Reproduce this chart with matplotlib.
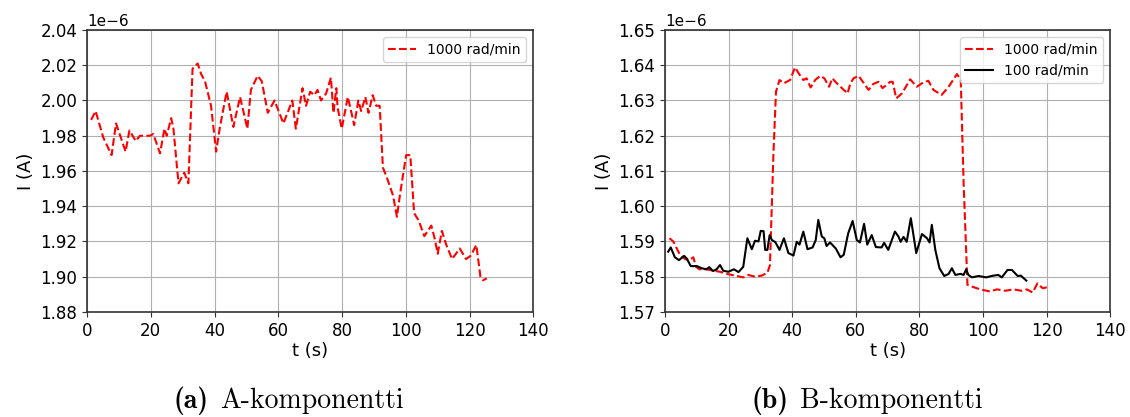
import matplotlib
matplotlib.use("Agg")
import matplotlib.pyplot as plt
import numpy as np

# Panel A: 1000 rad/min
tA = [1.3, 2.7, 5.1, 7.7, 9.1, 12.1, 13.3, 15.3, 16.6, 19.8, 20.8, 22.9, 24.3, 25.0, 26.4, 27.1,
      28.7, 30.5, 31.8, 33.1, 34.7, 35.8, 37.0, 38.9, 40.5, 41.7, 43.8, 45.9, 48.0, 50.3, 51.4,
      53.5, 54.8, 56.7, 58.8, 61.6, 64.4, 65.5, 67.6, 68.7, 70.0, 71.3, 72.3, 73.4, 75.0, 76.5,
      77.3, 78.2, 78.6, 79.9, 81.8, 82.7, 83.8, 85.1, 86.0, 87.3, 88.3, 89.6, 90.7, 91.8, 92.8,
      94.3, 96.0, 97.2, 98.2, 100.1, 101.4, 102.6, 104.0, 105.8, 108.0, 109.0, 110.0, 111.3,
      112.7, 114.5, 116.9, 118.9, 120.4, 122.1, 123.4, 124.2, 125.4]
IA = [1.989, 1.994, 1.979, 1.969, 1.987, 1.971, 1.983, 1.977, 1.980, 1.980, 1.981, 1.970, 1.984,
      1.980, 1.990, 1.984, 1.953, 1.959, 1.953, 2.018, 2.021, 2.015, 2.011, 1.997, 1.971, 1.985,
      2.005, 1.985, 2.002, 1.984, 2.006, 2.014, 2.011, 1.993, 2.000, 1.987, 2.000, 1.984, 2.007,
      1.997, 2.005, 2.003, 2.006, 2.000, 2.004, 2.013, 1.993, 2.007, 1.996, 1.984, 2.002, 1.995,
      1.986, 2.000, 1.994, 2.002, 1.993, 2.003, 1.997, 1.997, 1.962, 1.955, 1.946, 1.934, 1.947,
      1.969, 1.969, 1.936, 1.932, 1.923, 1.929, 1.922, 1.913, 1.926, 1.918, 1.910, 1.916, 1.910,
      1.912, 1.918, 1.900, 1.898, 1.899]

# Panel B: 1000 rad/min
tB1 = [1.4, 2.6, 4.7, 6.3, 7.6, 8.9, 9.75, 10.8, 12.9, 15.2, 17.3, 19.4, 22.6, 24.6, 26.2, 28.3,
       30.4, 32.2, 33.0, 34.1, 34.9, 36.0, 37.4, 39.3, 40.9, 41.9, 43.5, 44.5, 45.8, 47.2, 48.8,
       50.1, 51.6, 52.6, 54.0, 57.4, 58.3, 59.3, 60.9, 62.2, 64.0, 65.5, 67.1, 68.4, 70.8, 71.6,
       72.7, 74.5, 77.1, 79.2, 80.8, 82.8, 84.4, 87.0, 89.2, 91.8, 93.0, 93.9, 95.1, 96.5, 99.1,
       102.2, 104.4, 107.0, 109.6, 112.2, 113.8, 115.6, 117.1, 118.8, 120.9]
IB1 = [1.5909, 1.5900, 1.5862, 1.5850, 1.5847, 1.5855, 1.5828, 1.5821, 1.5821, 1.5817, 1.5814,
       1.5808, 1.5802, 1.5798, 1.5805, 1.5800, 1.5803, 1.5811, 1.5833, 1.6150, 1.6325, 1.6358,
       1.6349, 1.6358, 1.6394, 1.6379, 1.6358, 1.6363, 1.6337, 1.6358, 1.6370, 1.6363, 1.6339,
       1.6363, 1.6349, 1.6320, 1.6349, 1.6363, 1.6370, 1.6353, 1.6330, 1.6347, 1.6353, 1.6335,
       1.6353, 1.6353, 1.6306, 1.6320, 1.6360, 1.6339, 1.6349, 1.6356, 1.6330, 1.6316, 1.6339,
       1.6375, 1.6358, 1.6065, 1.5777, 1.5772, 1.5764, 1.5758, 1.5764, 1.5760, 1.5764, 1.5760,
       1.5764, 1.5755, 1.5781, 1.5767, 1.5772]

# Panel B: 100 rad/min
tB2 = [1.0, 1.8, 3.1, 4.4, 6.0, 6.8, 8.1, 10.0, 11.5, 13.0, 13.9, 15.1, 16.2, 17.3, 18.3, 19.9,
       21.7, 23.1, 24.6, 25.9, 27.3, 28.3, 29.4, 30.1, 31.0, 31.5, 32.2, 32.9, 33.6, 34.7, 36.0,
       37.4, 38.8, 40.4, 41.4, 42.3, 43.5, 44.8, 46.4, 47.4, 48.2, 49.3, 50.1, 50.8, 51.9, 53.7,
       55.2, 56.2, 57.6, 59.0, 60.3, 61.3, 62.6, 63.6, 65.0, 66.3, 68.1, 68.9, 70.2, 72.3, 73.4,
       74.1, 75.0, 76.0, 77.3, 79.0, 80.8, 82.4, 83.2, 83.9, 85.0, 86.3, 87.8, 89.2, 90.2, 91.3,
       92.9, 93.9, 94.7, 95.4, 96.5, 98.6, 101.0, 102.7, 104.8, 105.9, 107.7, 109.1, 110.9,
       111.9, 113.6]
IB2 = [1.5871, 1.5883, 1.5855, 1.5847, 1.5859, 1.5852, 1.5830, 1.5830, 1.5824, 1.5821, 1.5827,
       1.5816, 1.5821, 1.5833, 1.5817, 1.5814, 1.5821, 1.5813, 1.5828, 1.5909, 1.5878, 1.5902,
       1.5900, 1.5930, 1.5929, 1.5876, 1.5876, 1.5918, 1.5904, 1.5898, 1.5876, 1.5909, 1.5867,
       1.5860, 1.5899, 1.5891, 1.5928, 1.5878, 1.5883, 1.5904, 1.5961, 1.5914, 1.5909, 1.5887,
       1.5897, 1.5880, 1.5855, 1.5862, 1.5923, 1.5958, 1.5904, 1.5897, 1.5950, 1.5891, 1.5918,
       1.5884, 1.5883, 1.5896, 1.5876, 1.5928, 1.5914, 1.5899, 1.5913, 1.5899, 1.5966, 1.5867,
       1.5921, 1.5909, 1.5897, 1.5947, 1.5876, 1.5824, 1.5802, 1.5808, 1.5824, 1.5805, 1.5808,
       1.5805, 1.5821, 1.5805, 1.5798, 1.5802, 1.5798, 1.5802, 1.5805, 1.5798, 1.5819, 1.5819,
       1.5802, 1.5803, 1.5789]

xticks = [0, 20, 40, 60, 80, 100, 120, 140]
yticksA = [1.88, 1.90, 1.92, 1.94, 1.96, 1.98, 2.00, 2.02, 2.04]
yticksB = [1.57, 1.58, 1.59, 1.60, 1.61, 1.62, 1.63, 1.64, 1.65]
captions = ['A-komponentti', 'B-komponentti']
letters = ['(a)', '(b)']
scale = 1e-6

W, H = 1130, 417
fig = plt.figure(figsize=(W / 100, H / 100), dpi=100)
axA = fig.add_axes([0.077, 0.252, 0.395, 0.676])
axB = fig.add_axes([0.5885, 0.252, 0.394, 0.676])

axA.plot(np.array(tA), np.array(IA) * scale, color='red', linestyle='--', linewidth=1.5,
         label='1000 rad/min')
axB.plot(np.array(tB1), np.array(IB1) * scale, color='red', linestyle='--', linewidth=1.5,
         label='1000 rad/min')
axB.plot(np.array(tB2), np.array(IB2) * scale, color='black', linestyle='-', linewidth=1.5,
         label='100 rad/min')

for ax, yt in [(axA, yticksA), (axB, yticksB)]:
    ax.set_xlim(0, 140)
    ax.set_ylim(yt[0] * scale, yt[-1] * scale)
    ax.set_xticks(xticks)
    ax.set_yticks(np.array(yt) * scale)
    ax.grid(True, color='#b0b0b0', linewidth=0.8)
    ax.tick_params(labelsize=12, color='#333333')
    for sp in ax.spines.values():
        sp.set_color('#333333')
        sp.set_linewidth(1.2)
    ax.yaxis.get_offset_text().set_fontsize(11)
    ax.set_xlabel('t (s)', fontsize=13, labelpad=2)
    ax.set_ylabel('I (A)', fontsize=13)
    ax.legend(loc='upper right', fontsize=10)

renderer = fig.canvas.get_renderer()
base_y = 0.022
for x0px, let, cap in [(174, letters[0], captions[0]), (752, letters[1], captions[1])]:
    t1 = fig.text(x0px / W, base_y, let, ha='left', va='baseline', fontsize=20, family='cmb10')
    bb = t1.get_window_extent(renderer=renderer)
    fig.text((bb.x1 + 11) / W, base_y, cap, ha='left', va='baseline', fontsize=20,
             family='cmr10')

fig.savefig('out.png', dpi=100)
